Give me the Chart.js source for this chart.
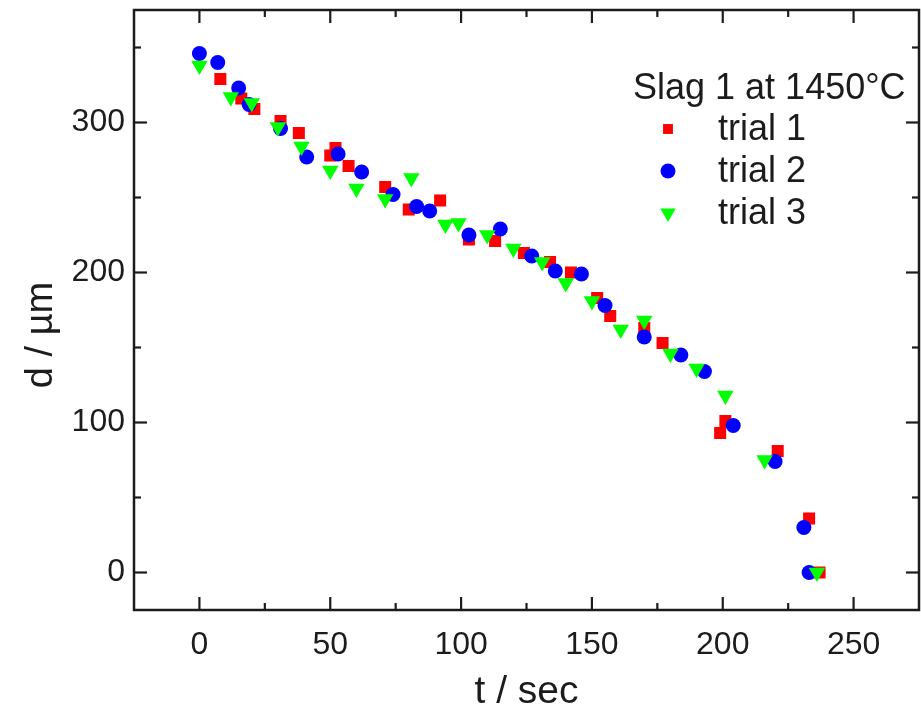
<!DOCTYPE html>
<html>
<head>
<meta charset="utf-8">
<title>Slag 1 at 1450°C</title>
<script src="https://cdn.jsdelivr.net/npm/chart.js@4.4.1/dist/chart.umd.min.js"></script>
<style>
  html, body { margin: 0; padding: 0; background: #fff; }
  #wrap { width: 921px; height: 720px; }
</style>
</head>
<body>
<div id="wrap"><canvas id="chart" width="921" height="720"></canvas></div>
<script>
// ── Data ────────────────────────────────────────────────────────
const T1 = [8, 16, 21, 31, 38, 50, 52, 57, 71, 80, 92, 103, 113, 124, 134, 142, 152, 157, 170, 177, 199, 201, 221, 233, 237];
const D1 = [329, 316, 309, 301, 293, 278, 283, 271, 257, 242, 248, 222, 221, 213, 207, 200, 183, 171, 163, 153, 93, 101, 81, 36, 0];

const T2 = [0, 7, 15, 19, 31, 41, 53, 62, 74, 83, 88, 103, 115, 127, 136, 146, 155, 170, 184, 193, 204, 220, 231, 233];
const D2 = [346, 340, 323, 312, 296, 277, 279, 267, 252, 244, 241, 225, 229, 211, 201, 199, 178, 157, 145, 134, 98, 74, 30, 0];

const T3 = [0, 12, 20, 30, 39, 50, 60, 71, 81, 94, 99, 110, 120, 131, 140, 150, 161, 170, 180, 190, 201, 216, 236];
const D3 = [338, 317, 313, 297, 284, 268, 256, 249, 263, 232, 233, 225, 216, 207, 193, 181, 162, 168, 146, 136, 118, 75, 0];

const LEGEND_TITLE = 'Slag 1 at 1450°C';
const SERIES_NAMES = ['trial 1', 'trial 2', 'trial 3'];
const X_TITLE = 't / sec';
const Y_TITLE = 'd / µm';

const X_TICKS = [0, 50, 100, 150, 200, 250];
const X_MINOR = [25, 75, 125, 175, 225];
const Y_TICKS = [0, 100, 200, 300];
const Y_MINOR = [50, 150, 250, 350];

const FONT = "'Liberation Sans', Arial, Helvetica, sans-serif";
const INK = '#1c1c1c';

const pts = (xs, ys) => xs.map((x, i) => ({ x, y: ys[i] }));

// no extra room for half labels at the ends of the axes
const noPad = s => { s.paddingTop = 0; s.paddingBottom = 0; s.paddingLeft = 0; s.paddingRight = 0; };

// ── Frame with inward ticks on all four sides ───────────────────
const framePlugin = {
  id: 'frame',
  afterDraw(chart) {
    const { ctx, chartArea: a, scales: { x, y } } = chart;
    ctx.save();
    ctx.strokeStyle = INK;
    ctx.lineWidth = 2.5;
    ctx.strokeRect(a.left, a.top, a.right - a.left, a.bottom - a.top);
    ctx.lineWidth = 2.2;
    const tick = (x0, y0, x1, y1) => { ctx.beginPath(); ctx.moveTo(x0, y0); ctx.lineTo(x1, y1); ctx.stroke(); };
    [[X_TICKS, 13], [X_MINOR, 7]].forEach(([vals, len]) => vals.forEach(v => {
      const px = x.getPixelForValue(v);
      tick(px, a.bottom, px, a.bottom - len);
      tick(px, a.top, px, a.top + len);
    }));
    [[Y_TICKS, 13], [Y_MINOR, 7]].forEach(([vals, len]) => vals.forEach(v => {
      const py = y.getPixelForValue(v);
      tick(a.left, py, a.left + len, py);
      tick(a.right, py, a.right - len, py);
    }));

    // y title, a bit below the middle of the plot like the original
    ctx.fillStyle = INK;
    ctx.font = `38px ${FONT}`;
    ctx.textAlign = 'center';
    ctx.textBaseline = 'middle';
    ctx.translate(42, 335);
    ctx.rotate(-Math.PI / 2);
    ctx.fillText(Y_TITLE, 0, 0);
    ctx.restore();
  }
};

// ── Legend drawn inside the plot ────────────────────────────────
const legendPlugin = {
  id: 'innerLegend',
  afterDraw(chart) {
    const { ctx } = chart;
    ctx.save();
    ctx.fillStyle = INK;
    ctx.font = `36px ${FONT}`;
    ctx.textBaseline = 'middle';
    ctx.textAlign = 'left';
    ctx.fillText(LEGEND_TITLE, 633, 89);
    const rows = [129, 171, 213];
    const sizes = [7, 7.5, 9];
    SERIES_NAMES.forEach((name, i) => {
      const ds = chart.data.datasets.find(d => d.label === name);
      ctx.fillStyle = ds.backgroundColor;
      const opts = { pointStyle: ds.pointStyle, rotation: ds.pointRotation || 0, radius: sizes[i], borderWidth: 0 };
      if (Chart.helpers && Chart.helpers.drawPoint) {
        Chart.helpers.drawPoint(ctx, opts, 668, rows[i]);
      }
      ctx.fillStyle = INK;
      ctx.fillText(name, 718, rows[i] + 1);
    });
    ctx.restore();
  }
};

new Chart(document.getElementById('chart'), {
  type: 'scatter',
  data: {
    datasets: [
      { label: SERIES_NAMES[0], data: pts(T1, D1), pointStyle: 'rect', pointRadius: 8.5,
        backgroundColor: '#ff0000', borderWidth: 0, order: 3 },
      { label: SERIES_NAMES[1], data: pts(T2, D2), pointStyle: 'circle', pointRadius: 7.5,
        backgroundColor: '#0000ff', borderWidth: 0, order: 2 },
      { label: SERIES_NAMES[2], data: pts(T3, D3), pointStyle: 'triangle', pointRotation: 180, pointRadius: 9.5,
        backgroundColor: '#00ff00', borderWidth: 0, order: 1 },
    ],
  },
  options: {
    responsive: false,
    animation: false,
    layout: { autoPadding: false, padding: { top: 10, right: 2, left: 0, bottom: 0 } },
    plugins: { legend: { display: false }, tooltip: { enabled: false } },
    scales: {
      x: {
        type: 'linear', min: -25, max: 275,
        grid: { display: false, drawTicks: false }, border: { display: false },
        afterBuildTicks: s => { s.ticks = X_TICKS.map(v => ({ value: v })); },
        afterFit: s => { s.height = 110; noPad(s); },
        ticks: { color: INK, font: { family: FONT, size: 32 }, padding: 16, maxRotation: 0 },
        title: { display: true, text: X_TITLE, color: INK, font: { family: FONT, size: 39 }, padding: { top: 4 } },
      },
      y: {
        type: 'linear', min: -25, max: 375,
        grid: { display: false, drawTicks: false }, border: { display: false },
        afterBuildTicks: s => { s.ticks = Y_TICKS.map(v => ({ value: v })); },
        afterFit: s => { s.width = 134; noPad(s); },
        ticks: { color: INK, font: { family: FONT, size: 32 }, padding: 9 },
      },
    },
  },
  plugins: [framePlugin, legendPlugin],
});
</script>
</body>
</html>
